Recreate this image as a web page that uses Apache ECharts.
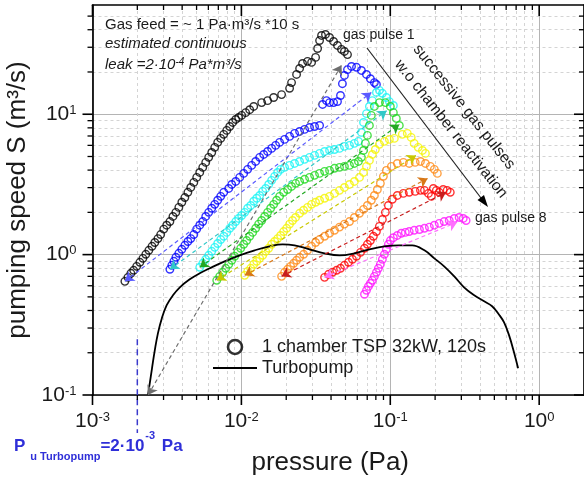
<!DOCTYPE html>
<html>
<head>
<meta charset="utf-8">
<script src="https://cdn.jsdelivr.net/npm/echarts@6.0.0/dist/echarts.min.js"></script>
<style>
  html, body { margin: 0; padding: 0; background: #fff; }
  #chart { width: 584px; height: 483px; }
</style>
</head>
<body>
<div id="chart"></div>
<script>
// pumping speed (m3/s) vs pressure (Pa), one array per gas pulse
const pulse1 = [[1.65e-3,0.645],[1.73e-3,0.689],[1.81e-3,0.736],[1.89e-3,0.773],[1.98e-3,0.825],[2.08e-3,0.882],[2.18e-3,0.941],[2.28e-3,1.005],[2.39e-3,1.073],[2.51e-3,1.146],[2.62e-3,1.22],[2.75e-3,1.30],[2.87e-3,1.39],[3.01e-3,1.52],[3.15e-3,1.62],[3.31e-3,1.72],[3.47e-3,1.87],[3.63e-3,2.00],[3.80e-3,2.17],[3.98e-3,2.36],[4.17e-3,2.55],[4.37e-3,2.78],[4.57e-3,3.01],[4.79e-3,3.27],[5.01e-3,3.55],[5.25e-3,3.85],[5.50e-3,4.18],[5.76e-3,4.54],[6.03e-3,4.93],[6.32e-3,5.34],[6.62e-3,5.81],[6.93e-3,6.30],[7.26e-3,6.73],[7.61e-3,7.19],[7.97e-3,7.67],[8.35e-3,8.18],[8.74e-3,8.74],[9.16e-3,9.18],[9.59e-3,9.49],[1.004e-2,9.81],[1.068e-2,10.26],[1.137e-2,10.77],[1.21e-2,11.36],[1.368e-2,12.1],[1.50e-2,12.5],[1.647e-2,13.16],[1.862e-2,13.8],[2.107e-2,15.3],[2.172e-2,16.8],[2.347e-2,19.2],[2.46e-2,21.2],[2.576e-2,23.0],[2.782e-2,23.8],[2.96e-2,23.4],[3.15e-2,25.4],[3.25e-2,29.4],[3.35e-2,33.5],[3.454e-2,36.4],[3.67e-2,37.0],[3.91e-2,35.2],[4.16e-2,33.0],[4.42e-2,30.9],[4.70e-2,29.0],[4.92e-2,28.0],[5.16e-2,26.6]];
const pulse2 = [[3.31e-3,0.786],[3.41e-3,0.839],[3.52e-3,0.896],[3.63e-3,0.957],[3.80e-3,1.022],[3.98e-3,1.091],[4.17e-3,1.165],[4.37e-3,1.24],[4.57e-3,1.30],[4.79e-3,1.39],[5.01e-3,1.52],[5.25e-3,1.62],[5.50e-3,1.72],[5.76e-3,1.87],[6.03e-3,2.00],[6.32e-3,2.14],[6.62e-3,2.28],[6.93e-3,2.44],[7.26e-3,2.60],[7.61e-3,2.78],[8.22e-3,2.96],[8.61e-3,3.16],[9.16e-3,3.32],[9.74e-3,3.55],[1.036e-2,3.79],[1.102e-2,4.05],[1.172e-2,4.32],[1.247e-2,4.61],[1.327e-2,4.93],[1.412e-2,5.17],[1.50e-2,5.43],[1.596e-2,5.71],[1.698e-2,6.00],[1.806e-2,6.30],[1.95e-2,6.62],[2.107e-2,6.95],[2.276e-2,7.30],[2.46e-2,7.54],[2.657e-2,7.80],[2.87e-2,8.05],[3.10e-2,8.18],[3.35e-2,8.32],[3.51e-2,11.74],[3.73e-2,12.5],[3.91e-2,12.1],[4.16e-2,12.1],[4.42e-2,12.3],[4.63e-2,13.6],[4.77e-2,16.5],[4.92e-2,18.9],[5.16e-2,20.8],[5.49e-2,21.9],[5.93e-2,21.6],[6.40e-2,20.5],[6.92e-2,19.2],[7.35e-2,17.9],[7.82e-2,16.8],[8.07e-2,16.3]];
const pulse3 = [[5.25e-3,0.812],[5.50e-3,0.867],[5.76e-3,0.926],[6.03e-3,0.989],[6.32e-3,1.056],[6.62e-3,1.127],[6.93e-3,1.20],[7.26e-3,1.28],[7.61e-3,1.35],[7.97e-3,1.44],[8.35e-3,1.54],[8.74e-3,1.62],[9.16e-3,1.72],[9.59e-3,1.81],[1.004e-2,1.90],[1.052e-2,2.00],[1.102e-2,2.14],[1.155e-2,2.24],[1.21e-2,2.40],[1.267e-2,2.52],[1.327e-2,2.64],[1.39e-2,2.82],[1.456e-2,2.96],[1.525e-2,3.16],[1.596e-2,3.38],[1.672e-2,3.61],[1.751e-2,3.85],[1.834e-2,4.05],[1.95e-2,4.18],[2.107e-2,4.32],[2.276e-2,4.46],[2.46e-2,4.61],[2.657e-2,4.77],[2.87e-2,4.93],[3.10e-2,5.09],[3.35e-2,5.26],[3.62e-2,5.43],[3.91e-2,5.52],[4.22e-2,5.61],[4.56e-2,5.71],[4.92e-2,5.90],[5.32e-2,6.00],[5.74e-2,6.20],[6.11e-2,6.41],[6.40e-2,7.42],[6.61e-2,8.74],[6.92e-2,10.1],[7.24e-2,11.36],[7.58e-2,12.5],[8.07e-2,14.3],[8.45e-2,14.8],[8.85e-2,14.1],[9.41e-2,13.16],[9.86e-2,12.3],[1.049e-1,11.55]];
const pulse4 = [[6.83e-3,0.656],[7.15e-3,0.700],[7.49e-3,0.748],[7.84e-3,0.799],[8.22e-3,0.853],[8.61e-3,0.911],[9.02e-3,0.973],[9.44e-3,1.038],[9.89e-3,1.109],[1.036e-2,1.184],[1.085e-2,1.26],[1.137e-2,1.35],[1.19e-2,1.44],[1.247e-2,1.54],[1.306e-2,1.65],[1.368e-2,1.75],[1.433e-2,1.87],[1.50e-2,2.00],[1.572e-2,2.14],[1.647e-2,2.28],[1.724e-2,2.44],[1.806e-2,2.60],[1.922e-2,2.78],[2.043e-2,2.91],[2.172e-2,3.06],[2.311e-2,3.22],[2.46e-2,3.32],[2.657e-2,3.44],[2.87e-2,3.55],[3.10e-2,3.67],[3.35e-2,3.79],[3.62e-2,3.92],[3.91e-2,3.98],[4.22e-2,4.12],[4.56e-2,4.18],[4.92e-2,4.25],[5.32e-2,4.32],[5.74e-2,4.46],[6.11e-2,4.61],[6.40e-2,4.93],[6.61e-2,5.52],[6.81e-2,6.20],[7.02e-2,7.07],[7.24e-2,8.32],[7.46e-2,9.81],[7.82e-2,11.36],[8.45e-2,12.1],[9.27e-2,12.1],[1.001e-1,11.36],[1.049e-1,10.26],[1.098e-1,9.33],[1.15e-1,8.32]];
const pulse5 = [[1.052e-2,0.712],[1.102e-2,0.760],[1.155e-2,0.799],[1.21e-2,0.853],[1.267e-2,0.896],[1.327e-2,0.941],[1.39e-2,0.989],[1.456e-2,1.056],[1.525e-2,1.109],[1.596e-2,1.184],[1.672e-2,1.24],[1.751e-2,1.30],[1.834e-2,1.37],[1.922e-2,1.46],[2.012e-2,1.54],[2.107e-2,1.65],[2.206e-2,1.75],[2.311e-2,1.84],[2.46e-2,1.97],[2.617e-2,2.07],[2.782e-2,2.17],[2.96e-2,2.28],[3.15e-2,2.36],[3.35e-2,2.44],[3.62e-2,2.52],[3.91e-2,2.60],[4.22e-2,2.73],[4.56e-2,2.87],[4.92e-2,3.01],[5.32e-2,3.16],[5.74e-2,3.32],[6.21e-2,3.55],[6.61e-2,3.85],[6.92e-2,4.25],[7.24e-2,4.69],[7.58e-2,5.17],[7.94e-2,5.61],[8.45e-2,6.10],[9.13e-2,6.41],[9.86e-2,6.62],[1.065e-1,6.73],[1.204e-1,7.19],[1.301e-1,7.30],[1.382e-1,6.84],[1.447e-1,6.20],[1.54e-1,5.81],[1.644e-1,5.52],[1.722e-1,5.26]];
const pulse6 = [[1.862e-2,0.700],[1.95e-2,0.748],[2.044e-2,0.786],[2.14e-2,0.825],[2.242e-2,0.867],[2.347e-2,0.911],[2.46e-2,0.957],[2.617e-2,1.005],[2.782e-2,1.073],[2.96e-2,1.146],[3.15e-2,1.22],[3.35e-2,1.28],[3.62e-2,1.35],[3.91e-2,1.42],[4.22e-2,1.49],[4.56e-2,1.57],[4.92e-2,1.65],[5.32e-2,1.72],[5.74e-2,1.84],[6.21e-2,1.97],[6.61e-2,2.10],[7.02e-2,2.24],[7.46e-2,2.44],[7.82e-2,2.64],[8.19e-2,2.91],[8.58e-2,3.22],[8.99e-2,3.61],[9.41e-2,3.98],[1.017e-1,4.25],[1.115e-1,4.46],[1.224e-1,4.54],[1.34e-1,4.46],[1.47e-1,4.54],[1.594e-1,4.61],[1.722e-1,4.46],[1.858e-1,4.25],[1.976e-1,4.05],[2.07e-1,3.79]];
const pulse7 = [[3.62e-2,0.689],[3.85e-2,0.724],[4.09e-2,0.748],[4.36e-2,0.773],[4.63e-2,0.799],[4.92e-2,0.839],[5.24e-2,0.882],[5.57e-2,0.926],[5.93e-2,0.973],[6.31e-2,1.038],[6.71e-2,1.109],[7.02e-2,1.184],[7.35e-2,1.26],[7.70e-2,1.35],[8.07e-2,1.46],[8.45e-2,1.59],[8.85e-2,1.78],[9.27e-2,2.00],[9.71e-2,2.24],[1.032e-1,2.48],[1.115e-1,2.64],[1.224e-1,2.73],[1.34e-1,2.78],[1.47e-1,2.82],[1.594e-1,2.87],[1.696e-1,2.87],[1.804e-1,2.73],[1.887e-1,2.60],[1.947e-1,2.96],[2.039e-1,2.87],[2.13e-1,2.78],[2.266e-1,2.91],[2.409e-1,2.87],[2.529e-1,2.78]];
const pulse8 = [[6.71e-2,0.522],[6.92e-2,0.557],[7.13e-2,0.594],[7.35e-2,0.624],[7.58e-2,0.656],[7.82e-2,0.700],[8.07e-2,0.748],[8.32e-2,0.799],[8.58e-2,0.853],[8.85e-2,0.926],[9.13e-2,1.005],[9.41e-2,1.091],[9.71e-2,1.184],[1.001e-1,1.26],[1.049e-1,1.32],[1.115e-1,1.37],[1.186e-1,1.42],[1.262e-1,1.44],[1.34e-1,1.46],[1.447e-1,1.49],[1.57e-1,1.51],[1.696e-1,1.54],[1.83e-1,1.57],[1.976e-1,1.62],[2.13e-1,1.67],[2.30e-1,1.72],[2.49e-1,1.75],[2.69e-1,1.81],[2.90e-1,1.84],[3.09e-1,1.81],[3.23e-1,1.75]];

const turbopump = [[2.36e-3,0.1],[2.43e-3,0.123],[2.51e-3,0.155],[2.62e-3,0.208],[2.75e-3,0.275],[2.92e-3,0.351],[3.15e-3,0.436],[3.47e-3,0.513],[3.86e-3,0.585],[4.50e-3,0.667],[5.25e-3,0.736],[6.32e-3,0.812],[7.72e-3,0.896],[9.74e-3,0.989],[1.228e-2,1.073],[1.548e-2,1.146],[1.89e-2,1.184],[2.276e-2,1.165],[2.87e-2,1.091],[3.62e-2,1.022],[4.56e-2,0.989],[5.74e-2,1.022],[7.24e-2,1.091],[9.13e-2,1.146],[1.15e-1,1.165],[1.403e-1,1.165],[1.696e-1,1.073],[1.976e-1,0.941],[2.30e-1,0.825],[2.69e-1,0.700],[3.13e-1,0.585],[3.66e-1,0.513],[4.27e-1,0.465],[4.83e-1,0.429],[5.38e-1,0.373],[5.81e-1,0.329],[6.28e-1,0.266],[6.78e-1,0.201],[7.22e-1,0.155]];

// dashed trace of each pulse: [start point, end point]
const pulseArrows = [
  [[2.36e-3, 0.1], [0.047, 22.3]],
  [[1.65e-3, 0.645], [0.0746, 14.3]],
  [[3.31e-3, 0.786], [0.0945, 10.6]],
  [[5.25e-3, 0.812], [0.115, 8.45]],
  [[6.83e-3, 0.656], [0.149, 5.09]],
  [[1.052e-2, 0.712], [0.178, 3.49]],
  [[1.862e-2, 0.700], [0.237, 2.78]],
  [[0.0362, 0.689], [0.281, 1.70]]
];

const pulseNames = ['1 chamber TSP 32kW, 120s', 'gas pulse 2', 'gas pulse 3', 'gas pulse 4', 'gas pulse 5', 'gas pulse 6', 'gas pulse 7', 'gas pulse 8'];
const pulseColors = ['#000000', '#0000ff', '#19f5f5', '#1ed81e', '#f5f500', '#ff8a14', '#ff0000', '#ff14ff'];
const arrowColors = ['#6e6e6e', '#5a5aff', '#30c8c8', '#23a823', '#c8c800', '#d87818', '#c81e1e', '#ff70ff'];

const xRange = [1e-3, 2];
const yRange = [0.1, 60];
const xMajor = [1e-3, 1e-2, 1e-1, 1];
const xMinor = [2e-3, 3e-3, 4e-3, 5e-3, 6e-3, 7e-3, 8e-3, 9e-3, 0.02, 0.03, 0.04, 0.05, 0.06, 0.07, 0.08, 0.09, 0.2, 0.3, 0.4, 0.5, 0.6, 0.7, 0.8, 0.9];
const yMajor = [0.1, 1, 10];
const yMinor = [0.2, 0.3, 0.4, 0.5, 0.6, 0.7, 0.8, 0.9, 2, 3, 4, 5, 6, 7, 8, 9, 20, 30, 40, 50];
const uPressure = 2e-3;

const FONT = '"Liberation Sans", Arial, Helvetica, sans-serif';
const INK = '#1a1a1a';

const chart = echarts.init(document.getElementById('chart'));

function powLabel(v) {
  return '{b|10}{s|' + Math.round(Math.log10(v)) + '}';
}
const powRich = {
  b: { fontSize: 21, fontFamily: FONT, color: INK },
  s: { fontSize: 13, fontFamily: FONT, color: INK, verticalAlign: 'top' }
};

// grid lines come from the axes, tick marks are drawn below as graphics
function logAxis(kind, pos, ticks, extra) {
  const range = kind === 'x' ? xRange : yRange;
  const base = {
    type: 'log', position: pos, min: range[0], max: range[1],
    axisLine: { show: false },
    axisTick: { show: false, customValues: ticks },
    axisLabel: { show: false },
    splitLine: { show: false }
  };
  return Object.assign(base, extra || {});
}

const axisLineOn = { show: true, lineStyle: { color: '#000', width: 1.7 } };
const majorGrid = { show: true, lineStyle: { color: '#b4b4b4', width: 1 } };
const minorGrid = { show: true, lineStyle: { color: '#d4d4d4', width: 1, type: [3, 3] } };

chart.setOption({
  animation: false,
  backgroundColor: '#fff',
  grid: { left: 92.5, right: 0, top: 5, bottom: 88, outerBoundsMode: 'none' },
  xAxis: [
    logAxis('x', 'bottom', xMajor, {
      axisLine: axisLineOn, splitLine: majorGrid,
      axisLabel: { show: true, customValues: xMajor, formatter: powLabel, rich: powRich, margin: 16 },
      name: 'pressure (Pa)', nameLocation: 'middle', nameGap: 55,
      nameTextStyle: { fontSize: 26, fontFamily: FONT, color: INK, padding: [0, 16, 0, 0] }
    }),
    logAxis('x', 'bottom', xMinor, { splitLine: minorGrid }),
    logAxis('x', 'top', xMajor, { axisLine: axisLineOn })
  ],
  yAxis: [
    logAxis('y', 'left', yMajor, {
      axisLine: axisLineOn, splitLine: majorGrid,
      axisLabel: { show: true, customValues: yMajor, formatter: powLabel, rich: powRich, margin: 16 },
      name: 'pumping speed S (m³/s)', nameLocation: 'middle', nameGap: 50,
      nameTextStyle: { fontSize: 26, fontFamily: FONT, color: INK }
    }),
    logAxis('y', 'left', yMinor, { splitLine: minorGrid }),
    logAxis('y', 'right', yMajor, { axisLine: axisLineOn })
  ],
  legend: {
    left: 212, top: 338, orient: 'vertical', padding: 0,
    itemWidth: 44, itemHeight: 14, itemGap: 3, selectedMode: false,
    textStyle: { fontSize: 18, fontFamily: FONT, color: INK },
    data: [
      { name: pulseNames[0], icon: 'circle', itemStyle: { color: 'rgba(0,0,0,0)', borderColor: '#000', borderWidth: 2.6 } },
      { name: 'Turbopump', itemStyle: { color: 'rgba(0,0,0,0)', borderColor: 'rgba(0,0,0,0)', borderWidth: 0 } }
    ]
  },
  series: [
    ...[pulse1, pulse2, pulse3, pulse4, pulse5, pulse6, pulse7, pulse8].map((d, i) => ({
      type: 'scatter', name: pulseNames[i], data: d,
      xAxisIndex: 0, yAxisIndex: 0,
      symbol: 'circle', symbolSize: 7.5, silent: true, z: 2,
      itemStyle: { color: 'rgba(0,0,0,0)', borderColor: pulseColors[i], borderWidth: 1.4 }
    })),
    {
      type: 'line', name: 'Turbopump', data: turbopump,
      xAxisIndex: 0, yAxisIndex: 0,
      smooth: 0.4, symbol: 'none', silent: true, z: 4,
      lineStyle: { color: '#000', width: 1.8 }, itemStyle: { color: '#000' }
    },
    {
      type: 'lines', coordinateSystem: 'cartesian2d', xAxisIndex: 0, yAxisIndex: 0,
      symbol: ['arrow', 'arrow'], symbolSize: 9, silent: true, z: 5,
      lineStyle: { width: 1.2, type: [4, 3], opacity: 1, curveness: 0 },
      data: pulseArrows.map((a, i) => ({ coords: a, lineStyle: { color: arrowColors[i] }, itemStyle: { color: arrowColors[i] } }))
    }
  ]
});

const cx = v => chart.convertToPixel({ xAxisIndex: 0 }, v);
const cy = v => chart.convertToPixel({ yAxisIndex: 0 }, v);
const xL = cx(xRange[0]), xR = cx(xRange[1]), yB = cy(yRange[0]), yT = cy(yRange[1]);

// tick marks: outward on bottom/left, inward on top/right
const tickEls = [];
function tick(xa, ya, xb, yb, w) {
  tickEls.push({ type: 'line', silent: true, z: 30, shape: { x1: xa, y1: ya, x2: xb, y2: yb }, style: { stroke: '#000', lineWidth: w } });
}
xMajor.forEach(v => { const x = cx(v); tick(x, yB, x, yB + 10, 1.6); tick(x, yT, x, yT + 11, 1.6); });
xMinor.forEach(v => { const x = cx(v); tick(x, yB, x, yB + 5, 1.3); tick(x, yT, x, yT + 5, 1.3); });
yMajor.forEach(v => { const y = cy(v); tick(xL, y, xL - 10, y, 1.6); tick(xR, y, xR - 10, y, 1.6); });
yMinor.forEach(v => { const y = cy(v); tick(xL, y, xL - 5, y, 1.3); tick(xR, y, xR - 5, y, 1.3); });

const txt = (x, y, text, size, extra, rotation) => ({
  type: 'text', x: x, y: y, rotation: rotation || 0, silent: true, z: 20,
  style: Object.assign({ text: text, font: size + 'px ' + FONT, fill: INK, verticalAlign: 'middle' }, extra || {})
});

chart.setOption({
  graphic: tickEls.concat([
    txt(105, 25, 'Gas feed = ~ 1 Pa·m³/s *10 s', 15),
    txt(105, 44, 'estimated continuous', 15, { font: 'italic 15px ' + FONT }),
    txt(105, 65, '{i|leak =2·10}{s|-4}{i| Pa*m³/s}', 15, {
      rich: {
        i: { font: 'italic 15px ' + FONT, fill: INK, verticalAlign: 'bottom' },
        s: { font: 'italic 10px ' + FONT, fill: INK, verticalAlign: 'top' }
      }
    }),
    txt(343, 35, 'gas pulse 1', 14),
    txt(475, 218, 'gas pulse 8', 14),
    txt(464, 107, 'successive gas pulses', 15.5, { align: 'center' }, -0.9),
    txt(451, 129, 'w.o chamber reactivation', 15.5, { align: 'center' }, -0.9),
    {
      type: 'group', silent: true, z: 20,
      children: [
        { type: 'line', shape: { x1: 367, y1: 48, x2: 481, y2: 198 }, style: { stroke: '#222', lineWidth: 1.2 } },
        { type: 'polygon', shape: { points: [[488, 207], [477.5, 200], [484, 195]] }, style: { fill: '#000' } }
      ]
    },
    {
      type: 'line', silent: true, z: 20,
      shape: { x1: cx(uPressure), y1: cy(0.25), x2: cx(uPressure), y2: 433 },
      style: { stroke: '#3a3acc', lineWidth: 1.5, lineDash: [6, 4] }
    },
    {
      type: 'text', x: 14, y: 446, silent: true, z: 20,
      style: {
        text: '{m|P}{u|u Turbopump}{m|=2·10}{e|-3}{m| Pa}',
        verticalAlign: 'middle',
        rich: {
          m: { font: 'bold 17px ' + FONT, fill: '#2f2fd8', lineHeight: 32, verticalAlign: 'middle' },
          u: { font: 'bold 11px ' + FONT, fill: '#2f2fd8', verticalAlign: 'bottom', padding: [0, 0, 0, 5] },
          e: { font: 'bold 11px ' + FONT, fill: '#2f2fd8', verticalAlign: 'top', padding: [0, 2, 0, 1] }
        }
      }
    }
  ])
});
</script>
</body>
</html>
